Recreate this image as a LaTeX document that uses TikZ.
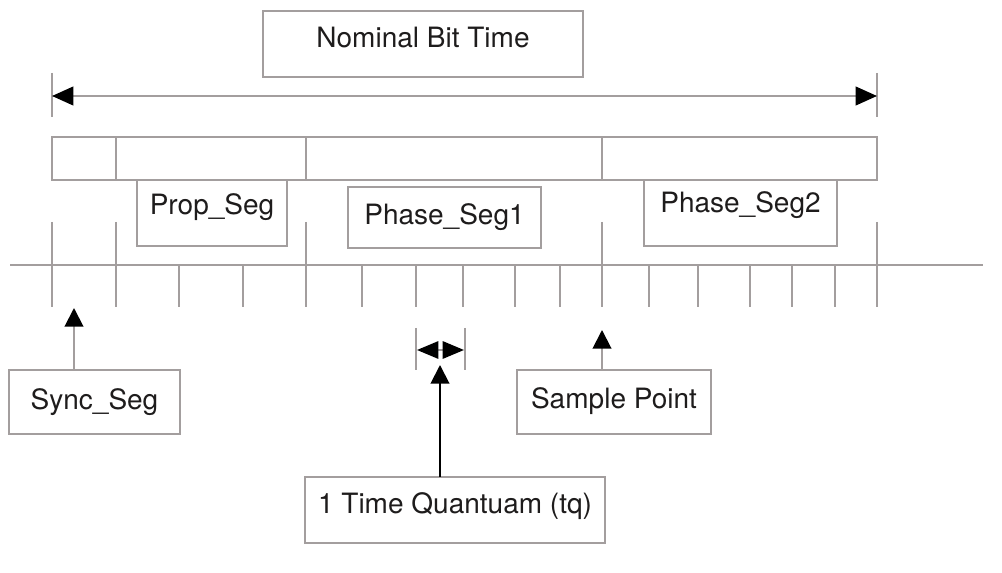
\documentclass[tikz,border=0pt]{standalone}
\usepackage{fontspec}
\setmainfont{TeX Gyre Heros}
\usetikzlibrary{arrows.meta}

\definecolor{framegray}{RGB}{163,158,158}
\definecolor{inkblack}{RGB}{30,28,28}

\tikzset{every picture/.style={line width=1.5pt}}
\tikzset{
	segbox/.style={draw=framegray, inner sep=0pt, outer sep=0pt, text=inkblack, font=\fontsize{21}{25}\selectfont},
	pointer/.style={-{Triangle[length=14pt,width=14pt,color=black]}},
	tqtip/.style={{Triangle[length=16pt,width=13pt,color=black]}-{Triangle[length=16pt,width=13pt,color=black]}},
	bittip/.style={{Triangle[length=16pt,width=14pt,color=black]}-{Triangle[length=16pt,width=14pt,color=black]}},
}

\begin{document}
\begin{tikzpicture}[x=0.75pt,y=0.75pt,yscale=-1,xscale=1,framegray]
	\useasboundingbox (0,0) rectangle (1002,573);

	% Text Node
	\node[segbox, minimum width=240pt, text height=27.75pt, text depth=21.75pt] (nominal) at (423,44) {Nominal Bit Time};

	%Straight Lines: bit time span
	\coordinate (bitL) at (52,96);
	\coordinate (bitR) at (877,96);
	\draw (52,73) -- (52,117);
	\draw (877,73) -- (877,117);
	\draw[bittip] (bitL) -- (bitR);

	%Shape: segment bar
	\draw (52,137) rectangle (877,180);
	\foreach \x in {116,306,602}
		\draw (\x,137) -- (\x,180);

	% Text Node
	\node[segbox, minimum width=112.5pt, text height=26.25pt, text depth=23.25pt] (prop) at (212,213) {Prop\_Seg};
	% Text Node
	\node[segbox, minimum width=144.75pt, text height=28.5pt, text depth=17.25pt] (phase1) at (444.5,217.5) {Phase\_Seg1};
	% Text Node
	\node[segbox, minimum width=144.75pt, text height=24.75pt, text depth=24.75pt] (phase2) at (740.5,213) {Phase\_Seg2};

	%Straight Lines: time axis and quanta
	\draw (10,265) -- (983,265);
	\foreach \x in {52,116,306,602,877}
		\draw (\x,222) -- (\x,307);
	\foreach \x in {179,243,362,416,463,515,560,649,698,750,792,835}
		\draw (\x,265) -- (\x,307);

	% Text Node
	\node[segbox, minimum width=128.25pt, text height=29.25pt, text depth=18.75pt] (sync) at (94.5,402) {Sync\_Seg};
	% Text Node
	\node[segbox, minimum width=145.5pt, text height=28.5pt, text depth=19.5pt] (sample) at (614,402) {Sample Point};
	% Text Node
	\node[segbox, minimum width=225pt, text height=27pt, text depth=22.5pt] (quantum) at (455,510) {1 Time Quantuam (tq)};

	%Straight Lines: pointers
	\coordinate (syncpt) at (74,308);
	\coordinate (samplept) at (602,330);
	\coordinate (qpt) at (440,365);
	\draw[pointer] (syncpt |- sync.north) -- (syncpt);
	\draw[pointer] (samplept |- sample.north) -- (samplept);
	\draw[pointer, black] (qpt |- quantum.north) -- (qpt);

	%Straight Lines: one quantum
	\coordinate (tqL) at (417,350);
	\coordinate (tqR) at (464,350);
	\draw (416,328) -- (416,370);
	\draw (465,328) -- (465,370);
	\draw[tqtip] (tqL) -- (tqR);

\end{tikzpicture}
\end{document}
